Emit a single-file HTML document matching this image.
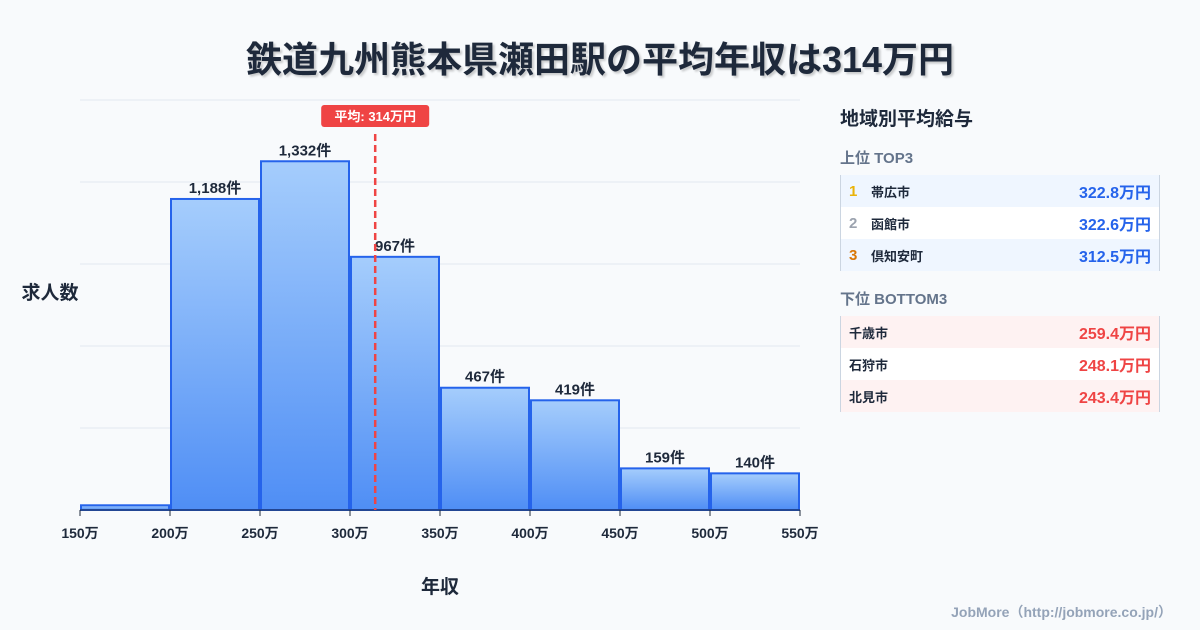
<!DOCTYPE html>
<html><head><meta charset="utf-8">
<style>
body{margin:0;width:1200px;height:630px;background:#f8fafc;font-family:"Liberation Sans","Noto Sans CJK JP",sans-serif;overflow:hidden;position:relative}
.title{position:absolute;top:31px;left:0;width:1200px;text-align:center;font-size:36px;font-weight:bold;color:#1e293b;text-shadow:2px 2px 2px rgba(0,0,0,.2)}
.panel{position:absolute;left:840px;top:100px;width:320px}
.ph{font-size:19px;font-weight:bold;color:#1e293b;margin:4px 0 16px}
.sub{font-size:15px;font-weight:bold;color:#64748b;margin-bottom:7px}
.tbl{border-right:1px solid #cbd5e1;border-left:1px solid #cbd5e1;margin-bottom:17px}
.row{height:32px;display:flex;align-items:center;font-size:13px;font-weight:bold;color:#1e293b;padding:0 8px}
.row .n{width:22px;font-size:15px}
.row .v{margin-left:auto;font-size:16px}
.t .row:nth-child(odd){background:#eff6ff}.t .row:nth-child(even){background:#fff}
.b .row:nth-child(odd){background:#fef2f2}.b .row:nth-child(even){background:#fff}
.t .v{color:#2563eb}.b .v{color:#ef4444}
.foot{position:absolute;right:28px;bottom:8px;font-size:14px;font-weight:bold;color:#94a3b8}
</style></head><body>
<div class="title">鉄道九州熊本県瀬田駅の平均年収は314万円</div>
<svg id="chart" width="1200" height="630" style="position:absolute;left:0;top:0">
<defs><linearGradient id="g" x1="0" y1="0" x2="0" y2="1"><stop offset="0" stop-color="#a5cdfc"/><stop offset="1" stop-color="#4f8ef5"/></linearGradient></defs>
</svg>
<div class="panel">
<div class="ph">地域別平均給与</div>
<div class="sub">上位 TOP3</div>
<div class="tbl t">
<div class="row"><span class="n" style="color:#eab308">1</span>帯広市<span class="v">322.8万円</span></div>
<div class="row"><span class="n" style="color:#9ca3af">2</span>函館市<span class="v">322.6万円</span></div>
<div class="row"><span class="n" style="color:#d97706">3</span>倶知安町<span class="v">312.5万円</span></div>
</div>
<div class="sub">下位 BOTTOM3</div>
<div class="tbl b">
<div class="row">千歳市<span class="v">259.4万円</span></div>
<div class="row">石狩市<span class="v">248.1万円</span></div>
<div class="row">北見市<span class="v">243.4万円</span></div>
</div>
</div>
<div class="foot">JobMore（http://jobmore.co.jp/）</div>
<script>
const binStarts=[150,200,250,300,350,400,450,500];
const counts=[18,1188,1332,967,467,419,159,140];
const countLabels=["","1,188件","1,332件","967件","467件","419件","159件","140件"];
const xTicks=[150,200,250,300,350,400,450,500,550];
const meanValue=314;
const binWidth=50;
const X0=80,X1=800,XMIN=150,XMAX=550,Y0=510,Y1=100,YMAX=1566;
const x=v=>X0+(v-XMIN)/(XMAX-XMIN)*(X1-X0);
const y=v=>Y0-v/YMAX*(Y0-Y1);
const svg=document.getElementById('chart');
const NS='http://www.w3.org/2000/svg';
function mk(t,a){const e=document.createElementNS(NS,t);for(const k in a)e.setAttribute(k,a[k]);svg.appendChild(e);return e;}
for(let i=0;i<=5;i++){const gy=Y0-i*(Y0-Y1)/5;const l=mk('line',{x1:X0,x2:X1,y1:gy,y2:gy,stroke:'#e2e8f0','stroke-width':1});

}
binStarts.forEach((b,i)=>{
 const r=mk('rect',{x:x(b)+1,y:y(counts[i]),width:x(b+binWidth)-x(b)-2,height:Y0-y(counts[i]),fill:'url(#g)',stroke:'#2563eb','stroke-width':2});
 
 
 if(countLabels[i]){const t=mk('text',{x:(x(b)+x(b+binWidth))/2,y:y(counts[i])-6,'text-anchor':'middle','font-size':15,'font-weight':'bold',fill:'#1e293b'});t.textContent=countLabels[i];
 
 }
});
mk('line',{x1:X0,x2:X1,y1:Y0,y2:Y0,stroke:'#1e293b','stroke-width':1});
xTicks.forEach(v=>{const tl=mk('line',{x1:x(v),x2:x(v),y1:Y0,y2:Y0+6,stroke:'#1e293b'});


const t=mk('text',{x:x(v),y:Y0+28,'text-anchor':'middle','font-size':14,'font-weight':'bold',fill:'#1e293b'});t.textContent=v+'万';

});
const mx=x(meanValue);
const ml=mk('line',{x1:mx,x2:mx,y1:134,y2:Y0,stroke:'#ef4444','stroke-width':2.5,'stroke-dasharray':'7,4'});


const mb=mk('rect',{x:mx-54,y:105,width:108,height:22,rx:3,fill:'#ef4444'});


const mt=mk('text',{x:mx,y:121,'text-anchor':'middle','font-size':13,'font-weight':'bold',fill:'#fff'});mt.textContent='平均: '+meanValue+'万円';


const yt=mk('text',{x:50,y:299,'text-anchor':'middle','font-size':19,'font-weight':'bold',fill:'#1e293b'});yt.textContent='求人数';


const xt=mk('text',{x:440,y:593,'text-anchor':'middle','font-size':19,'font-weight':'bold',fill:'#1e293b'});xt.textContent='年収';


</script>
</body></html>
